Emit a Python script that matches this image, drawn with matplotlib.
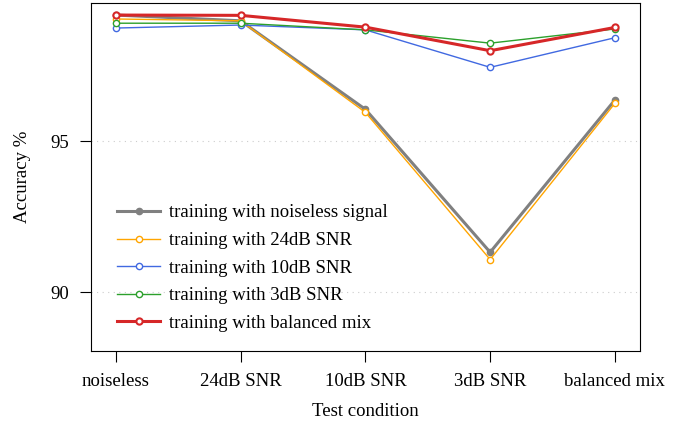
import matplotlib.pyplot as plt
import numpy as np

plt.rcParams['font.family'] = ['Liberation Serif', 'DejaVu Serif']

conditions = ['noiseless', '24dB SNR', '10dB SNR', '3dB SNR', 'balanced mix']
noiseless = [99.17, 98.98, 96.05, 91.32, 96.36]
snr24 = [99.04, 98.98, 95.95, 91.08, 96.25]
snr10 = [98.74, 98.84, 98.68, 97.44, 98.42]
snr3 = [98.90, 98.90, 98.68, 98.24, 98.71]
balanced = [99.17, 99.16, 98.77, 97.99, 98.76]

x = np.arange(len(conditions))

fig = plt.figure(figsize=(6.94, 4.24), dpi=100)
ax = fig.add_axes([0.131, 0.172, 0.791, 0.821])

ax.plot(x, noiseless, color='#808080', lw=2.2, marker='o', ms=4.5,
        mfc='#808080', mec='#808080', label='training with noiseless signal')
ax.plot(x, snr24, color='#FFA500', lw=1.0, marker='o', ms=4.5,
        mfc='white', mec='#FFA500', label='training with 24dB SNR')
ax.plot(x, snr10, color='#4169E1', lw=1.0, marker='o', ms=4.5,
        mfc='white', mec='#4169E1', label='training with 10dB SNR')
ax.plot(x, snr3, color='#2ca02c', lw=1.0, marker='o', ms=4.5,
        mfc='white', mec='#2ca02c', label='training with 3dB SNR')
ax.plot(x, balanced, color='#D62728', lw=2.2, marker='o', ms=4.5,
        mfc='white', mec='#D62728', mew=1.5, label='training with balanced mix')

ax.set_xlim(-0.2, 4.2)
ax.set_ylim(88.05, 99.57)
ax.set_xticks(x)
ax.set_xticklabels(conditions, fontsize=13.5)
ax.set_yticks([90, 95])
ax.tick_params(axis='both', labelsize=13.5, length=8, pad=7.5)
ax.yaxis.grid(True, linestyle=(0, (1, 4)), color='#cccccc', lw=0.8)
ax.set_xlabel('Test condition', fontsize=13.5, labelpad=10)
ax.set_ylabel('Accuracy %', fontsize=13.5, labelpad=14)

ax.legend(loc='upper left', bbox_to_anchor=(0.034, 0.443), borderaxespad=0,
          frameon=False, fontsize=13.5, handlelength=2.3, handletextpad=0.45,
          labelspacing=0.56)

fig.savefig('out.png')
